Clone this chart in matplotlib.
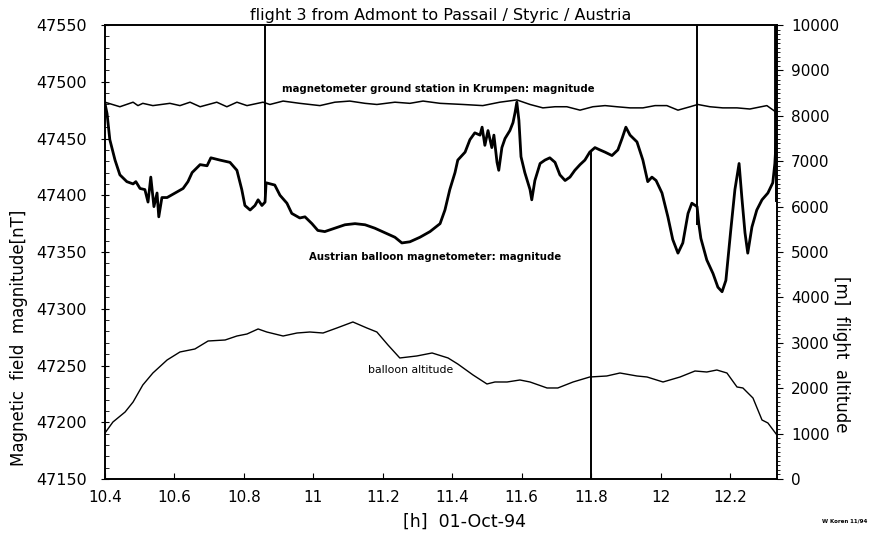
import matplotlib
matplotlib.use('Agg')
import matplotlib.pyplot as plt
from matplotlib.ticker import MultipleLocator, FixedLocator

# Austrian balloon magnetometer (hours, nT)
mag_t = [10.400, 10.406, 10.414, 10.429, 10.443, 10.463, 10.481, 10.489, 10.501, 10.515,
         10.524, 10.532, 10.541, 10.550, 10.555, 10.564, 10.579, 10.602, 10.625, 10.639,
         10.651, 10.674, 10.694, 10.705, 10.731, 10.760, 10.780, 10.794, 10.803, 10.818,
         10.832, 10.841, 10.852, 10.861, 10.864, 10.889, 10.904, 10.924, 10.938, 10.961,
         10.976, 10.996, 11.013, 11.033, 11.062, 11.091, 11.120, 11.149, 11.177, 11.206,
         11.235, 11.255, 11.278, 11.307, 11.336, 11.365, 11.379, 11.393, 11.408, 11.416,
         11.422, 11.437, 11.451, 11.465, 11.480, 11.486, 11.494, 11.503, 11.514, 11.520,
         11.529, 11.534, 11.543, 11.552, 11.566, 11.575, 11.581, 11.586, 11.592, 11.598,
         11.609, 11.624, 11.629, 11.638, 11.653, 11.667, 11.681, 11.696, 11.710, 11.725,
         11.739, 11.753, 11.768, 11.782, 11.796, 11.811, 11.825, 11.840, 11.860, 11.877,
         11.889, 11.900, 11.912, 11.932, 11.949, 11.963, 11.975, 11.987, 12.004, 12.021,
         12.035, 12.050, 12.064, 12.079, 12.090, 12.105, 12.110, 12.116, 12.133, 12.151,
         12.165, 12.177, 12.188, 12.202, 12.214, 12.226, 12.234, 12.243, 12.251, 12.263,
         12.277, 12.292, 12.309, 12.323, 12.329, 12.335]
mag_b = [47481, 47472, 47449, 47431, 47418, 47412, 47410, 47412, 47406, 47405,
         47394, 47416, 47390, 47402, 47381, 47398, 47398, 47402, 47406, 47412,
         47420, 47427, 47426, 47433, 47431, 47429, 47422, 47405, 47391, 47387,
         47391, 47396, 47391, 47394, 47411, 47409, 47400, 47393, 47384, 47380,
         47381, 47375, 47369, 47368, 47371, 47374, 47375, 47374, 47371, 47367,
         47363, 47358, 47359, 47363, 47368, 47375, 47387, 47405, 47420, 47431,
         47433, 47438, 47449, 47455, 47453, 47460, 47444, 47457, 47442, 47453,
         47429, 47422, 47442, 47450, 47457, 47464, 47473, 47482, 47466, 47434,
         47420, 47405, 47396, 47413, 47428, 47431, 47433, 47429, 47418, 47413,
         47416, 47422, 47427, 47431, 47438, 47442, 47440, 47438, 47435, 47440,
         47450, 47460, 47453, 47447, 47431, 47412, 47416, 47413, 47402, 47381,
         47361, 47349, 47358, 47384, 47393, 47390, 47375, 47362, 47343, 47331,
         47319, 47315, 47325, 47369, 47405, 47428, 47398, 47367, 47349, 47372,
         47387, 47396, 47402, 47411, 47428, 47460]

# ground station Krumpen (hours, nT)
gnd_t = [10.400, 10.443, 10.481, 10.495, 10.509, 10.538, 10.587, 10.616, 10.645, 10.674,
         10.722, 10.751, 10.780, 10.809, 10.855, 10.875, 10.913, 10.961, 11.019, 11.062,
         11.105, 11.149, 11.183, 11.235, 11.278, 11.316, 11.365, 11.431, 11.488, 11.537,
         11.586, 11.624, 11.661, 11.696, 11.730, 11.768, 11.805, 11.840, 11.874, 11.912,
         11.949, 11.984, 12.018, 12.050, 12.085, 12.107, 12.142, 12.179, 12.220, 12.257,
         12.306, 12.329]
gnd_b = [47482, 47478, 47482, 47479, 47481, 47479, 47481, 47479, 47482, 47478,
         47482, 47478, 47482, 47479, 47482, 47480, 47483, 47481, 47479, 47482,
         47483, 47481, 47480, 47482, 47481, 47483, 47481, 47480, 47479, 47482,
         47484, 47480, 47477, 47478, 47478, 47475, 47478, 47479, 47478, 47477,
         47477, 47479, 47479, 47475, 47478, 47480, 47478, 47477, 47477, 47476,
         47479, 47474]

# balloon altitude (hours, m)
alt_t = [10.400, 10.423, 10.458, 10.481, 10.509, 10.538, 10.579, 10.616, 10.659, 10.697,
         10.746, 10.780, 10.809, 10.841, 10.866, 10.913, 10.953, 10.990, 11.028, 11.068,
         11.114, 11.154, 11.183, 11.215, 11.249, 11.298, 11.342, 11.388, 11.416, 11.460,
         11.500, 11.523, 11.558, 11.595, 11.624, 11.673, 11.704, 11.748, 11.796, 11.845,
         11.883, 11.932, 11.961, 12.007, 12.056, 12.099, 12.133, 12.162, 12.191, 12.220,
         12.237, 12.266, 12.292, 12.309, 12.335]
alt_m = [1013, 1256, 1476, 1696, 2071, 2335, 2622, 2798, 2864, 3040,
         3062, 3150, 3194, 3305, 3238, 3150, 3216, 3238, 3216, 3327,
         3459, 3327, 3238, 2952, 2666, 2710, 2776, 2666, 2533, 2291,
         2093, 2137, 2137, 2181, 2137, 2005, 2005, 2137, 2247, 2269,
         2335, 2269, 2247, 2137, 2247, 2379, 2357, 2401, 2335, 2027,
         2005, 1784, 1300, 1234, 969]

# data glitches drawn as vertical strokes (hours, nT from, nT to)
spike_t = [10.861, 11.800, 12.105, 12.333]
spike_lo = [47394, 47150, 47374, 47394]
spike_hi = [47550, 47438, 47550, 47550]

fig = plt.figure(figsize=(8.71, 5.37), dpi=100)
ax = fig.add_axes([0.1205, 0.108, 0.7715, 0.8454])
ax2 = ax.twinx()

ax.plot(gnd_t, gnd_b, color='black', lw=1.1)
ax.plot(mag_t, mag_b, color='black', lw=2.0)
ax.vlines(spike_t, spike_lo, spike_hi, color='black', lw=1.4)
ax.vlines(spike_t[-1], 47433, 47550, color='black', lw=3.5)
ax2.plot(alt_t, alt_m, color='black', lw=1.0)

ax.set_xlim(10.4, 12.335)
ax.set_ylim(47150, 47550)
ax2.set_ylim(0, 10000)

ax.xaxis.set_major_locator(FixedLocator([10.4, 10.6, 10.8, 11.0, 11.2, 11.4, 11.6, 11.8, 12.0, 12.2]))
ax.set_xticklabels(['10.4', '10.6', '10.8', '11', '11.2', '11.4', '11.6', '11.8', '12', '12.2'])
ax.yaxis.set_major_locator(MultipleLocator(50))
ax.yaxis.set_minor_locator(MultipleLocator(10))
ax2.yaxis.set_major_locator(MultipleLocator(1000))
ax2.yaxis.set_minor_locator(MultipleLocator(100))

ax.tick_params(axis='x', direction='in', length=4, labelsize=11, pad=8)
ax.tick_params(axis='y', which='major', direction='inout', length=6, labelsize=11.5, pad=10)
ax.tick_params(axis='y', which='minor', direction='in', length=3)
ax2.tick_params(axis='y', which='major', direction='out', length=4, labelsize=11, pad=6)
ax2.tick_params(axis='y', which='minor', direction='out', length=2)
for a in (ax, ax2):
    for s in a.spines.values():
        s.set_linewidth(1.2)

ax.text(0.5, 1.004, 'flight 3 from Admont to Passail / Styric / Austria',
        transform=ax.transAxes, ha='center', va='bottom', fontsize=11.5)
ax.text(11.359, 47494, 'magnetometer ground station in Krumpen: magnitude',
        ha='center', va='center', fontsize=7.3, fontweight='bold')
ax.text(11.35, 47346, 'Austrian balloon magnetometer: magnitude',
        ha='center', va='center', fontsize=7.3, fontweight='bold')
ax.text(11.28, 47246, 'balloon altitude', ha='center', va='center', fontsize=7.8)

fig.text(0.533, 0.028, '[h]  01-Oct-94', ha='center', va='center', fontsize=12.5)
fig.text(0.022, 0.37, 'Magnetic  field  magnitude[nT]', rotation=90,
         ha='center', va='center', fontsize=12)
fig.text(0.966, 0.34, '[m]  flight  altitude', rotation=-90,
         ha='center', va='center', fontsize=12)
fig.text(0.97, 0.03, 'W Koren 11/94', ha='center', va='center', fontsize=4, fontweight='bold')

fig.savefig('out.png', dpi=100)
